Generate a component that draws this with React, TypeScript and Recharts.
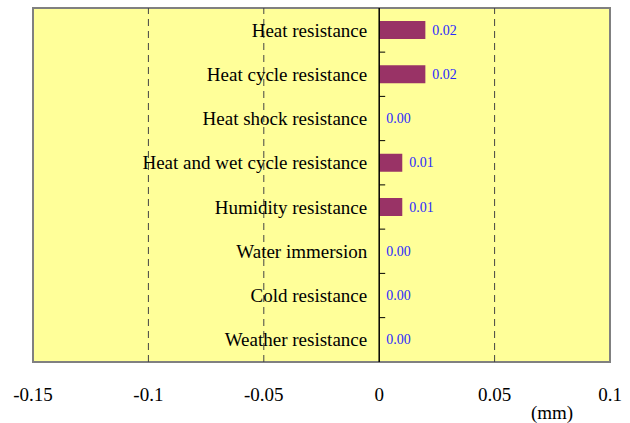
import React from 'react';
import {
  BarChart,
  Bar,
  XAxis,
  YAxis,
  ReferenceLine,
  ReferenceArea,
  LabelList,
} from 'recharts';

const CATEGORIES = [
  'Heat resistance',
  'Heat cycle resistance',
  'Heat shock resistance',
  'Heat and wet cycle resistance',
  'Humidity resistance',
  'Water immersion',
  'Cold resistance',
  'Weather resistance',
];
const VALUES = [0.02, 0.02, 0, 0.01, 0.01, 0, 0, 0];
const X_TICKS = [-0.15, -0.1, -0.05, 0, 0.05, 0.1];
const GRID_AT = [-0.1, -0.05, 0.05];

const W = 630;
const H = 423;
const MARGIN = { top: 8, right: 20, left: 33, bottom: 0 };
const X_AXIS_H = 61;
const FONT = 'Liberation Serif, Times New Roman, serif';

const data = CATEGORIES.map((name, i) => ({ name, value: VALUES[i] }));
const bandSize = (H - MARGIN.top - MARGIN.bottom - X_AXIS_H) / CATEGORIES.length;

// category name left of the zero line + little tick on the zero axis at the band's lower edge
function CategoryLabel(props: any) {
  const { x, y, height, index } = props;
  const cy = y + height / 2;
  const edge = cy + bandSize / 2;
  return (
    <g>
      <text
        x={x - 12}
        y={cy}
        textAnchor="end"
        dominantBaseline="central"
        fontFamily={FONT}
        fontSize={19}
        fill="#000"
      >
        {CATEGORIES[index]}
      </text>
      {index < CATEGORIES.length - 1 && (
        <line x1={x} x2={x + 6} y1={edge} y2={edge} stroke="#000" strokeWidth={1} />
      )}
    </g>
  );
}

function ValueLabel(props: any) {
  const { x, y, width, height, value } = props;
  return (
    <text
      x={x + width + 7}
      y={y + height / 2}
      dominantBaseline="central"
      fontFamily={FONT}
      fontSize={14}
      fill="#2a2aff"
    >
      {Number(value).toFixed(2)}
    </text>
  );
}

function XTick(props: any) {
  const { x, y, payload } = props;
  return (
    <text x={x} y={y} dy={31} textAnchor="middle" fontFamily={FONT} fontSize={19} fill="#000">
      {String(payload.value)}
    </text>
  );
}

export default function App() {
  return (
    <div style={{ position: 'absolute', left: 0, top: 0, width: W, height: H, background: '#fff' }}>
      <BarChart width={W} height={H} data={data} layout="vertical" margin={MARGIN} barSize={18}>
        <XAxis
          type="number"
          domain={[-0.15, 0.1]}
          ticks={X_TICKS}
          axisLine={false}
          tickLine={false}
          height={X_AXIS_H}
          tick={<XTick />}
          interval={0}
          allowDataOverflow
        />
        <YAxis type="category" dataKey="name" hide />
        <ReferenceArea
          x1={-0.15}
          x2={0.1}
          fill="#ffff99"
          fillOpacity={1}
          stroke="#808080"
          strokeWidth={2}
          ifOverflow="visible"
        />
        {GRID_AT.map((v) => (
          <ReferenceLine key={v} x={v} stroke="#444" strokeDasharray="7 5" strokeWidth={1} />
        ))}
        <ReferenceLine x={0} stroke="#000" strokeWidth={1.5} />
        <Bar dataKey="value" fill="#993366" isAnimationActive={false} minPointSize={0.01}>
          <LabelList dataKey="value" content={<CategoryLabel />} />
          <LabelList dataKey="value" content={<ValueLabel />} />
        </Bar>
        <text x={552} y={419} textAnchor="middle" fontFamily={FONT} fontSize={19} fill="#000">
          (mm)
        </text>
      </BarChart>
    </div>
  );
}
